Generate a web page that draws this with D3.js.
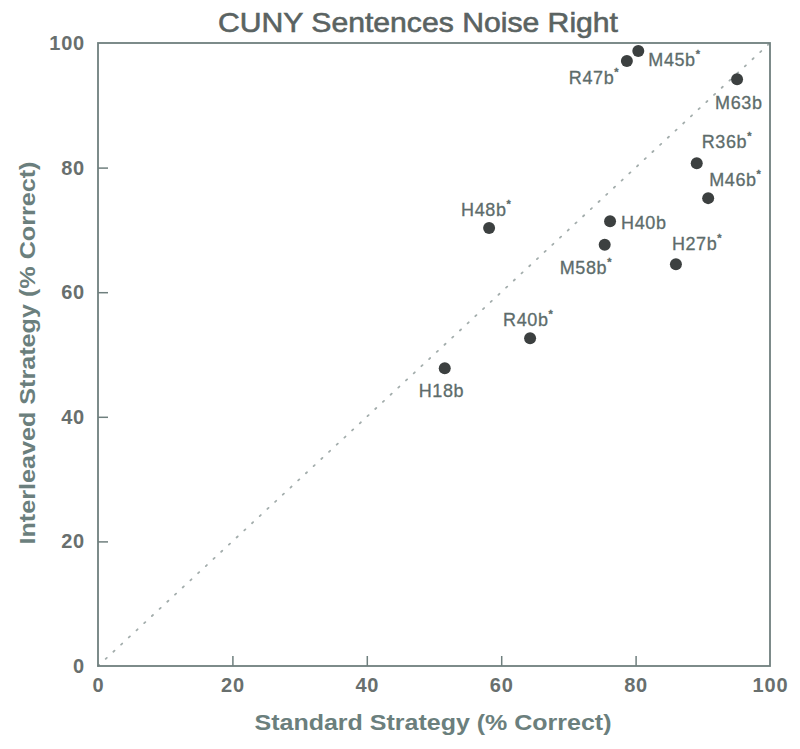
<!DOCTYPE html>
<html><head><meta charset="utf-8">
<script src="https://cdn.jsdelivr.net/npm/d3@7"></script>
<style>body{margin:0;background:#fff}</style>
</head><body>
<svg id="c" width="800" height="749"></svg>
<script>
const names = ["M45b","R47b","M63b","R36b","M46b","H40b","H48b","M58b","H27b","R40b","H18b"];
const starred = [true,true,false,true,true,false,true,true,true,true,false];
const xVals = [80.4,78.7,95.1,89.1,90.8,76.2,58.2,75.4,86.0,64.3,51.6];
const yVals = [98.7,97.1,94.2,80.7,75.1,71.4,70.3,67.6,64.5,52.6,47.8];
const ticks = [0,20,40,60,80,100];

// label placement (styling, not data)
const labelOffsets = {
  M45b:[10,15], R47b:[-58,23], M63b:[-22,30], R36b:[5,-15], M46b:[1,-12],
  H40b:[11,8], H48b:[-28,-12], M58b:[-45,29], H27b:[-4,-14], R40b:[-27,-12], H18b:[-26,29]
};

const FONT = "Liberation Sans, Arial, Helvetica, sans-serif";
const svg = d3.select("#c");
const x = d3.scaleLinear().domain([0,100]).range([98,770]);
const y = d3.scaleLinear().domain([0,100]).range([666,43]);
const frame = "#6f7f7e", txt = "#5d6c6b";

// title
svg.append("text").attr("x",418).attr("y",32).attr("text-anchor","middle")
  .attr("font-family",FONT).attr("font-size",28)
  .attr("textLength",400).attr("lengthAdjust","spacingAndGlyphs")
  .attr("fill","#5a6362").attr("stroke","#5a6362").attr("stroke-width",0.6)
  .text("CUNY Sentences Noise Right");

// diagonal dotted line
svg.append("line").attr("x1",x(0)).attr("y1",y(0)).attr("x2",x(100)).attr("y2",y(100))
  .attr("stroke","#a3adac").attr("stroke-width",1.8).attr("stroke-dasharray","1.5,9")
  .attr("stroke-linecap","round");

// axes (inward ticks)
const xAxis = d3.axisBottom(x).tickValues(ticks).tickSize(-10).tickPadding(12);
const yAxis = d3.axisLeft(y).tickValues(ticks).tickSize(-10).tickPadding(13);
const gx = svg.append("g").attr("transform",`translate(0,${y(0)})`).call(xAxis);
const gy = svg.append("g").attr("transform",`translate(${x(0)},0)`).call(yAxis);
[gx,gy].forEach(g=>{
  g.select(".domain").remove();
  g.selectAll(".tick line").attr("stroke",frame).attr("stroke-width",1.5)
    .filter(d=>d===0||d===100).remove();
  g.selectAll(".tick text").attr("fill","#686f6e").attr("font-size",20)
    .attr("font-family",FONT).attr("font-weight","bold").attr("letter-spacing",0.8);
});

// frame
svg.append("rect").attr("x",x(0)).attr("y",y(100)).attr("width",x(100)-x(0)).attr("height",y(0)-y(100))
  .attr("fill","none").attr("stroke",frame).attr("stroke-width",1.8);

// axis titles
svg.append("text").attr("x",433).attr("y",730).attr("text-anchor","middle")
  .attr("font-family",FONT).attr("font-size",22).attr("font-weight","bold")
  .attr("textLength",357).attr("lengthAdjust","spacingAndGlyphs")
  .attr("fill","#6b7f7d").text("Standard Strategy (% Correct)");
svg.append("text").attr("transform","translate(35,353) rotate(-90)").attr("text-anchor","middle")
  .attr("font-family",FONT).attr("font-size",22).attr("font-weight","bold")
  .attr("textLength",383).attr("lengthAdjust","spacingAndGlyphs")
  .attr("fill","#6b7f7d").text("Interleaved Strategy (% Correct)");

// points
const data = names.map((n,i)=>({n, s:starred[i], x:xVals[i], y:yVals[i]}));
svg.append("g").selectAll("circle").data(data).join("circle")
  .attr("cx",d=>x(d.x)).attr("cy",d=>y(d.y)).attr("r",6).attr("fill","#3c4040");

// labels
const lab = svg.append("g").selectAll("text").data(data).join("text")
  .attr("x",d=>x(d.x)+labelOffsets[d.n][0]).attr("y",d=>y(d.y)+labelOffsets[d.n][1])
  .attr("font-family",FONT).attr("font-size",18).attr("letter-spacing",0.6)
  .attr("fill",txt).attr("stroke",txt).attr("stroke-width",0.3);
lab.append("tspan").text(d=>d.n);
lab.filter(d=>d.s).append("tspan").attr("dy",-8).attr("font-size",11).attr("font-weight","bold").text("*");
</script>
</body></html>
